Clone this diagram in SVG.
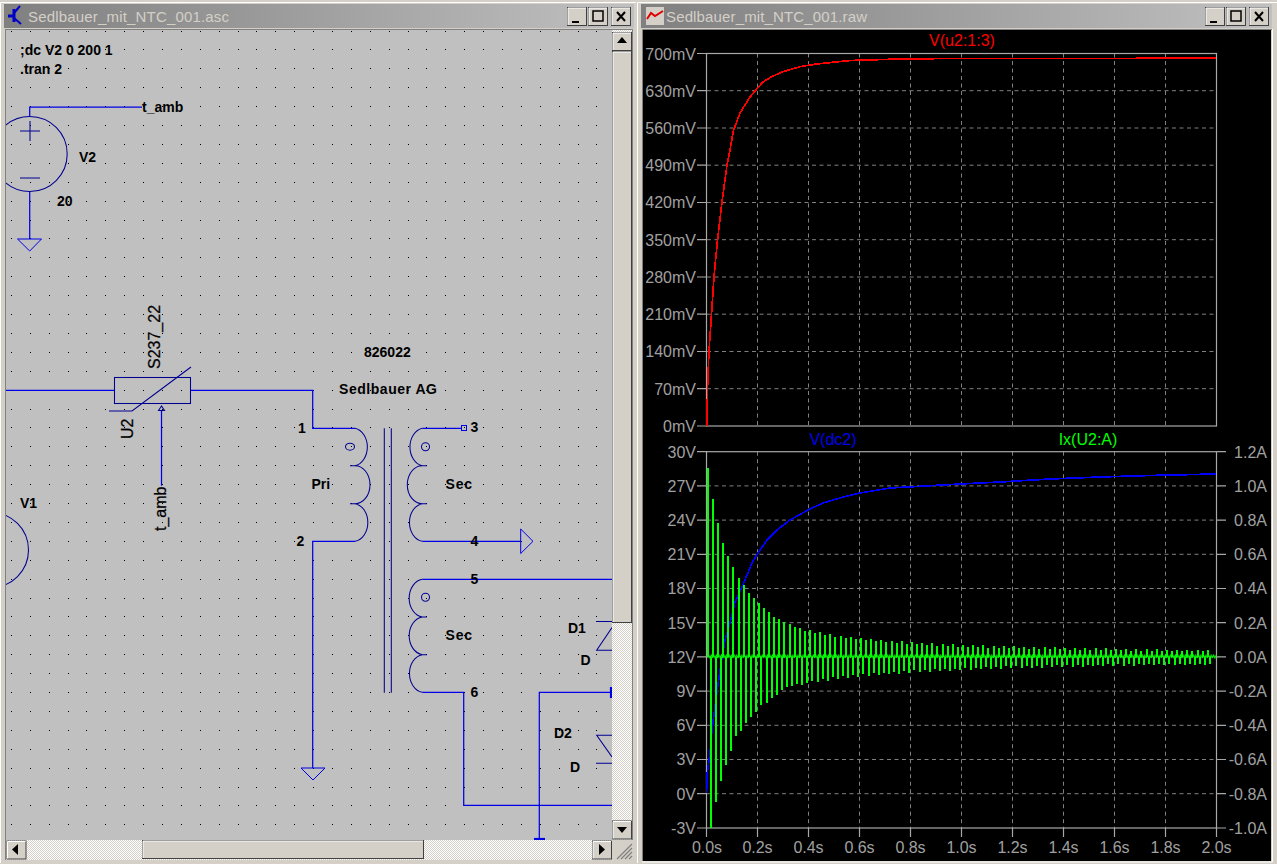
<svg xmlns="http://www.w3.org/2000/svg" width="1277" height="864" viewBox="0 0 1277 864">
<style>
.t{font-family:"Liberation Sans",Arial,sans-serif;font-size:14px;font-weight:bold;fill:#000}
.r{font-family:"Liberation Sans",Arial,sans-serif;font-size:16px;fill:#000;stroke:#000;stroke-width:.25}
.title{font-family:"Liberation Sans",Arial,sans-serif;font-size:15px;fill:#d4d0c8}
.ax{font-family:"Liberation Sans",Arial,sans-serif;font-size:16px;fill:#a0a0a0}
.axl{text-anchor:end}
.axm{text-anchor:middle}
.w{fill:none;stroke:#0000e6;stroke-width:1.25}
.c{fill:none;stroke:#000090;stroke-width:1.05}
.cb{fill:none;stroke:#0000e6;stroke-width:1}
.frame{fill:none;stroke:#a8a8a8;stroke-width:1.2}
.grid{fill:none;stroke:#808080;stroke-width:1;stroke-dasharray:4 3.5}
.btn{fill:#d4d0c8;stroke:#404040;stroke-width:1}
.hi{fill:none;stroke:#fff;stroke-width:1}
.track{fill:url(#hatch)}
</style>
<defs>
<pattern id="hatch" width="2" height="2" patternUnits="userSpaceOnUse"><rect width="2" height="2" fill="#fff"/><rect width="1" height="1" fill="#d4d0c8"/><rect x="1" y="1" width="1" height="1" fill="#d4d0c8"/></pattern>
<pattern id="ripple" x="707.5" y="652" width="5.1" height="9" patternUnits="userSpaceOnUse"><path d="M0 6L1.3 3L2.55 6L3.8 3L5.1 6" fill="none" stroke="#0f0" stroke-width=".9"/></pattern>
<linearGradient id="tb" x1="0" x2="1" y1="0" y2="0"><stop offset="0" stop-color="#808080"/><stop offset="1" stop-color="#c0c0c0"/></linearGradient>
<clipPath id="sch"><rect x="6" y="30" width="606" height="810"/></clipPath>
<clipPath id="plot2"><rect x="700" y="440" width="517" height="395"/></clipPath>
<g id="bx"><rect class="btn" x="0.5" y="0.5" width="19" height="18"/><path class="hi" d="M1 18V1H19"/></g>
</defs>

<rect id="desktop" width="1277" height="864" fill="#d4d0c8"/>

<g id="schematic-window">
<path d="M0.5 863V2.5H636" fill="none" stroke="#fff"/>
<rect x="4" y="4" width="630" height="24" fill="url(#tb)"/>
<rect x="5" y="29" width="628" height="831" fill="#808080"/>
<rect x="6" y="30" width="606" height="810" fill="#c0c0c0"/>
<g id="app-icon-left" fill="none" stroke="#0000c8" stroke-width="2"><path d="M8 16H14M14 9V22" stroke-width="3"/><path d="M14 13L20 6M14 18L21 24"/></g>
<text class="title" x="28" y="22" textLength="201">Sedlbauer_mit_NTC_001.asc</text>
<use href="#bx" x="567" y="7"/><use href="#bx" x="588" y="7"/><use href="#bx" x="611" y="7"/>
<path d="M572 22H579" stroke="#000" stroke-width="2"/>
<rect x="593" y="11" width="10" height="10" fill="none" stroke="#000" stroke-width="1.5"/>
<path d="M617 12L625 21M625 12L617 21" stroke="#000" stroke-width="2"/>

<path id="grid-dots" stroke="#000" stroke-width="1" stroke-dasharray="1 17.9" shape-rendering="crispEdges" fill="none" d="M11.5 30.5V840M30.5 30.5V840M49.5 30.5V840M68.5 30.5V840M86.5 30.5V840M105.5 30.5V840M124.5 30.5V840M143.5 30.5V840M162.5 30.5V840M181.5 30.5V840M200.5 30.5V840M219.5 30.5V840M238.5 30.5V840M256.5 30.5V840M275.5 30.5V840M294.5 30.5V840M313.5 30.5V840M332.5 30.5V840M351.5 30.5V840M370.5 30.5V840M389.5 30.5V840M408.5 30.5V840M426.5 30.5V840M445.5 30.5V840M464.5 30.5V840M483.5 30.5V840M502.5 30.5V840M521.5 30.5V840M540.5 30.5V840M559.5 30.5V840M578.5 30.5V840M596.5 30.5V840"/>

<g clip-path="url(#sch)">
<g id="connectors">
<path class="w" d="M29.7 116V107H142"/>
<path class="w" d="M29.7 191V239"/>
<path class="w" d="M6 390.3H114.3"/>
<path class="w" d="M190.7 390.3H312.7V428.3H355"/>
<path class="w" d="M161.5 410V485.7"/>
<path class="w" d="M355 541.3H312.7V768"/>
<path class="w" d="M422.3 428.3H461"/>
<path class="w" d="M422.3 541.3H520.7"/>
<path class="w" d="M422.3 579.3H612"/>
<path class="w" d="M422.3 692.3H463.7V805.3H612"/>
<path class="w" d="M611 692.3H539.3V840"/>
</g>
<g id="V2">
<circle class="c" cx="29.7" cy="154" r="37.5"/>
<path class="c" d="M20 131H40M30 121V141M20 178H40"/>
<path class="cb" d="M17.5 239H41.5L29.7 251Z"/>
<text class="t" x="79" y="162">V2</text>
<text class="t" x="57" y="206">20</text>
</g>
<g id="V1">
<circle class="c" cx="-9" cy="550" r="37.5"/>
<text class="t" x="20" y="508">V1</text>
</g>
<g id="U2">
<rect class="c" x="114.5" y="377.5" width="76" height="26" stroke-width="1.3"/>
<path class="c" d="M109 411H132L191 367"/>
<path class="c" d="M161.5 406L158.5 410.5H164.5Z"/>
<text class="r" transform="translate(159.5 369) rotate(-90)">S237_22</text>
<text class="r" transform="translate(133 439) rotate(-90)">U2</text>
<text class="r" transform="translate(166 531) rotate(-90)">t_amb</text>
</g>
<g id="transformer">
<path class="c" d="M355 428.3A15 19 0 0 1 355 465.7H350M355 465.7A15 19 0 0 1 355 503.7H350M355 503.7A15 19 0 0 1 355 541.3"/>
<ellipse class="c" cx="350" cy="446.7" rx="4.5" ry="3.5"/>
<path class="c" d="M384.3 428.3V692.7M391.3 428.3V692.7"/>
<path class="c" d="M422.3 428.3A15 19 0 0 0 422.3 465.7H427M422.3 465.7A15 19 0 0 0 422.3 503.7H427M422.3 503.7A15 19 0 0 0 422.3 541.3"/>
<circle class="c" cx="425.5" cy="446.7" r="4"/>
<path class="c" d="M422.3 579.3A15 19 0 0 0 422.3 617H427M422.3 617A15 19 0 0 0 422.3 654.7H427M422.3 654.7A15 19 0 0 0 422.3 692.3"/>
<circle class="c" cx="425.5" cy="597.3" r="4"/>
<rect class="cb" x="461.5" y="425.5" width="5" height="5"/>
<text class="t" x="364" y="357">826022</text>
<text class="t" x="339" y="394" textLength="98">Sedlbauer AG</text>
<text class="t" x="298" y="433">1</text>
<text class="t" x="296.5" y="546">2</text>
<text class="t" x="311.5" y="489">Pri</text>
<text class="t" x="470.5" y="432">3</text>
<text class="t" x="445.5" y="489" textLength="26.5">Sec</text>
<text class="t" x="470.5" y="546">4</text>
<text class="t" x="470.5" y="584">5</text>
<text class="t" x="445.5" y="640" textLength="26.5">Sec</text>
<text class="t" x="470.5" y="697">6</text>
</g>
<g id="grounds">
<path class="cb" d="M301 768H325L313 780Z"/>
<path class="cb" d="M520.7 529V553.5L533 541.3Z"/>
<path d="M611 687V698" stroke="#0000e6" stroke-width="2.2" fill="none"/>
<path d="M534 839H545" stroke="#0000e6" stroke-width="2.2" fill="none"/>
</g>
<g id="D1">
<path class="c" d="M596 621.5H612M612 627.5L596.7 650.3H612"/>
<text class="t" x="568" y="633">D1</text>
<text class="t" x="580.5" y="665">D</text>
</g>
<g id="D2">
<path class="c" d="M612 735.3H596.7L612 757M596 763.3H612"/>
<text class="t" x="554" y="738">D2</text>
<text class="t" x="570" y="772">D</text>
</g>
<g id="labels">
<text class="t" x="20" y="55">;dc V2 0 200 1</text>
<text class="t" x="20" y="74">.tran 2</text>
<text class="t" x="142" y="112">t_amb</text>
</g>
</g>

<g id="scrollbars">
<rect class="track" x="612" y="30" width="20" height="810"/>
<rect class="track" x="6" y="840" width="606" height="20"/>
<rect x="612" y="840" width="21" height="20" fill="#d4d0c8"/>
<path d="M617 859L632 844M621 859L632 848M625 859L632 852M629 859L632 856" stroke="#808080" stroke-width="1.2"/>
<use href="#bx" x="612" y="32"/>
<path d="M622 37L617 43H627Z" fill="#000"/>
<rect class="btn" x="612.5" y="51.5" width="19" height="571"/><path class="hi" d="M613 622V52H631"/>
<use href="#bx" x="612" y="820.5"/>
<path d="M617 827H627L622 833Z" fill="#000"/>
<use href="#bx" x="6.5" y="840.5"/>
<path d="M18 844V855L12 849.5Z" fill="#000"/>
<rect class="btn" x="142.5" y="840.5" width="281" height="18"/><path class="hi" d="M143 858V841H423"/>
<use href="#bx" x="592" y="840.5"/>
<path d="M599 844V855L605 849.5Z" fill="#000"/>
</g>
</g>

<g id="plot-window">
<path d="M637.5 863V2.5H1277" fill="none" stroke="#fff"/>
<rect x="641" y="4" width="631" height="24" fill="url(#tb)"/>
<rect x="643" y="30" width="628" height="831" fill="#000"/>
<path d="M642.5 861V29.5H1272" fill="none" stroke="#808080"/>
<path d="M1272.5 29V862H642" fill="none" stroke="#fff"/>
<g id="app-icon-right"><rect x="646" y="7" width="18" height="18" fill="#d4d0c8"/><path d="M647 19L651 13L655 16L663 11" fill="none" stroke="#e00000" stroke-width="2"/></g>
<text class="title" x="666" y="22" textLength="201">Sedlbauer_mit_NTC_001.raw</text>
<use href="#bx" x="1205" y="7"/><use href="#bx" x="1226" y="7"/><use href="#bx" x="1249" y="7"/>
<path d="M1210 22H1217" stroke="#000" stroke-width="2"/>
<rect x="1231" y="11" width="10" height="10" fill="none" stroke="#000" stroke-width="1.5"/>
<path d="M1255 12L1263 21M1263 12L1255 21" stroke="#000" stroke-width="2"/>

<g id="plot-top">
<path class="grid" d="M707 90.7H1217M707 128H1217M707 165.2H1217M707 202.5H1217M707 239.7H1217M707 277H1217M707 314.2H1217M707 351.5H1217M707 388.7H1217"/>
<path class="grid" d="M757.5 53.5V426M808.5 53.5V426M859.5 53.5V426M910.5 53.5V426M961.5 53.5V426M1012.5 53.5V426M1063.5 53.5V426M1114.5 53.5V426M1165.5 53.5V426"/>
<rect class="frame" x="706.5" y="53.5" width="510" height="372.5"/>
<path class="frame" d="M697 53.5H707M697 90.7H707M697 128H707M697 165.2H707M697 202.5H707M697 239.7H707M697 277H707M697 314.2H707M697 351.5H707M697 388.7H707M697 426H707"/>
<g class="ax axl">
<text x="696" y="60">700mV</text><text x="696" y="97">630mV</text><text x="696" y="134">560mV</text><text x="696" y="171">490mV</text><text x="696" y="208">420mV</text><text x="696" y="246">350mV</text><text x="696" y="283">280mV</text><text x="696" y="320">210mV</text><text x="696" y="357">140mV</text><text x="696" y="395">70mV</text><text x="696" y="432">0mV</text>
</g>
<text x="962" y="46" text-anchor="middle" style="font:16px 'Liberation Sans',Arial,sans-serif;fill:#f00">V(u2:1:3)</text>
<path id="trace-red" fill="none" stroke="#f00" stroke-width="1.7" shape-rendering="crispEdges" d="M707 426L707.5 389L709 351L711.5 314L714 277L717.5 240L722 202L727 165L730 150L733.3 131L736.7 122L740 113L745 105L750 97L756.7 89L763 82L771.7 76.7L783 71.7L800 66.7L816.7 64L850 60.5L900 59L950 58.5L1216 58.3"/>
</g>

<g id="plot-bottom">
<path class="grid" d="M707 485.9H1217M707 520.1H1217M707 554.3H1217M707 588.5H1217M707 622.7H1217M707 656.9H1217M707 691.1H1217M707 725.3H1217M707 759.5H1217M707 793.7H1217"/>
<path class="grid" d="M757.5 451.7V828M808.5 451.7V828M859.5 451.7V828M910.5 451.7V828M961.5 451.7V828M1012.5 451.7V828M1063.5 451.7V828M1114.5 451.7V828M1165.5 451.7V828"/>
<rect class="frame" x="706.5" y="451.7" width="510" height="376.3"/>
<path class="frame" d="M697 451.7H707M697 485.9H707M697 520.1H707M697 554.3H707M697 588.5H707M697 622.7H707M697 656.9H707M697 691.1H707M697 725.3H707M697 759.5H707M697 793.7H707M697 828H707"/>
<path class="frame" d="M1217 451.7H1226M1217 485.9H1226M1217 520.1H1226M1217 554.3H1226M1217 588.5H1226M1217 622.7H1226M1217 656.9H1226M1217 691.1H1226M1217 725.3H1226M1217 759.5H1226M1217 793.7H1226M1217 828H1226"/>
<path class="frame" d="M706.5 828V837M757.5 828V837M808.5 828V837M859.5 828V837M910.5 828V837M961.5 828V837M1012.5 828V837M1063.5 828V837M1114.5 828V837M1165.5 828V837M1216.5 828V837"/>
<g class="ax axl">
<text x="696" y="458">30V</text><text x="696" y="492">27V</text><text x="696" y="526">24V</text><text x="696" y="560">21V</text><text x="696" y="594">18V</text><text x="696" y="629">15V</text><text x="696" y="663">12V</text><text x="696" y="697">9V</text><text x="696" y="731">6V</text><text x="696" y="765">3V</text><text x="696" y="800">0V</text><text x="696" y="834">-3V</text>
<text x="1267" y="458">1.2A</text><text x="1267" y="492">1.0A</text><text x="1267" y="526">0.8A</text><text x="1267" y="560">0.6A</text><text x="1267" y="594">0.4A</text><text x="1267" y="629">0.2A</text><text x="1267" y="663">0.0A</text><text x="1267" y="697">-0.2A</text><text x="1267" y="731">-0.4A</text><text x="1267" y="765">-0.6A</text><text x="1267" y="800">-0.8A</text><text x="1267" y="834">-1.0A</text>
</g>
<g class="ax axm">
<text x="707" y="853">0.0s</text><text x="757.5" y="853">0.2s</text><text x="808.5" y="853">0.4s</text><text x="859.5" y="853">0.6s</text><text x="910.5" y="853">0.8s</text><text x="961.5" y="853">1.0s</text><text x="1012.5" y="853">1.2s</text><text x="1063.5" y="853">1.4s</text><text x="1114.5" y="853">1.6s</text><text x="1165.5" y="853">1.8s</text><text x="1216.5" y="853">2.0s</text>
</g>
<text x="833" y="445" text-anchor="middle" style="font:16px 'Liberation Sans',Arial,sans-serif;fill:#0000f0">V(dc2)</text>
<text x="1088" y="445" text-anchor="middle" style="font:16px 'Liberation Sans',Arial,sans-serif;fill:#0f0">Ix(U2:A)</text>
<path id="trace-blue" fill="none" stroke="#0000ff" stroke-width="1.7" shape-rendering="crispEdges" d="M706.5 793L707.3 773L710 753L712 730L715 707L720 670L725 640L730 623L735 602L742 587L747 575L752 563L758 553L767 540L777 530L790 520L808 510L823 503L840 498L860 493L890 488L960 484L1000 482L1050 479L1100 477L1150 475.5L1216 474"/>
<rect id="trace-green-ripple" x="707.5" y="652" width="509" height="9" fill="url(#ripple)"/>
<path id="trace-green" fill="none" stroke="#0f0" stroke-width="2" shape-rendering="crispEdges" clip-path="url(#plot2)" d="M708 657v-189m2.5 189v171m2.6-171
v-158m2.5 158v145m2.6-145
v-134m2.5 134v124m2.6-124
v-114m2.5 114v108m2.6-108
v-101m2.5 101v94m2.6-94
v-90m2.5 90v79m2.6-79
v-79m2.5 79v74m2.6-74
v-72m2.5 72v66m2.6-66
v-64m2.5 64v60m2.6-60
v-59m2.5 59v55m2.6-55
v-54m2.5 54v48m2.6-48
v-49m2.5 49v46m2.6-46
v-45m2.5 45v41m2.6-41
v-40m2.5 40v38m2.6-38
v-38m2.5 38v33m2.6-33
v-35m2.5 35v30m2.6-30
v-33m2.5 33v29m2.6-29
v-30m2.5 30v27m2.6-27
v-29m2.5 29v28m2.6-28
v-26m2.5 26v26m2.6-26
v-27m2.5 27v24m2.6-24
v-24m2.5 24v25m2.6-25
v-25m2.5 25v22m2.6-22
v-22m2.5 22v24m2.6-24
v-23m2.5 23v20m2.6-20
v-20m2.5 20v22m2.6-22
v-21m2.5 21v19m2.6-19
v-19m2.5 19v21m2.6-21
v-20m2.5 20v18m2.6-18
v-18m2.5 18v20m2.6-20
v-19m2.5 19v17m2.6-17
v-17m2.5 17v19m2.6-19
v-18m2.5 18v16m2.6-16
v-16m2.5 16v18m2.6-18
v-17m2.5 17v16m2.6-16
v-15m2.5 15v17m2.6-17
v-16m2.5 16v15m2.6-15
v-14m2.5 14v17m2.6-17
v-16m2.5 16v14m2.6-14
v-13m2.5 13v16m2.6-16
v-15m2.5 15v13m2.6-13
v-13m2.5 13v15m2.6-15
v-14m2.5 14v13m2.6-13
v-12m2.5 12v15m2.6-15
v-14m2.5 14v12m2.6-12
v-11m2.5 11v14m2.6-14
v-13m2.5 13v12m2.6-12
v-11m2.5 11v14m2.6-14
v-13m2.5 13v12m2.6-12
v-10m2.5 10v13m2.6-13
v-12m2.5 12v11m2.6-11
v-10m2.5 10v13m2.6-13
v-12m2.5 12v11m2.6-11
v-10m2.5 10v12m2.6-12
v-12m2.5 12v10m2.6-10
v-9m2.5 9v12m2.6-12
v-11m2.5 11v10m2.6-10
v-9m2.5 9v12m2.6-12
v-11m2.5 11v9m2.6-9
v-9m2.5 9v11m2.6-11
v-11m2.5 11v9m2.6-9
v-9m2.5 9v11m2.6-11
v-10m2.5 10v9m2.6-9
v-8m2.5 8v11m2.6-11
v-10m2.5 10v9m2.6-9
v-8m2.5 8v11m2.6-11
v-10m2.5 10v8m2.6-8
v-8m2.5 8v10m2.6-10
v-10m2.5 10v8m2.6-8
v-8m2.5 8v10m2.6-10
v-9m2.5 9v8m2.6-8
v-7m2.5 7v10m2.6-10
v-9m2.5 9v8m2.6-8
v-7m2.5 7v10m2.6-10
v-9m2.5 9v8m2.6-8
v-7m2.5 7v9m2.6-9
v-9m2.5 9v8m2.6-8
v-7m2.5 7v9m2.6-9
v-9m2.5 9v7m2.6-7
v-7m2.5 7v9m2.6-9
v-8m2.5 8v7m2.6-7
v-7m2.5 7v9m2.6-9
v-8m2.5 8v7m2.6-7
v-6m2.5 6v9m2.6-9
v-8m2.5 8v7m2.6-7
v-6m2.5 6v8m2.6-8
v-8m2.5 8v7m2.6-7
v-6m2.5 6v8m2.6-8
v-8m2.5 8v7m2.6-7
v-6m2.5 6v8m2.6-8
v-7m2.5 7v7m2.6-7
v-6m2.5 6v8m2.6-8
v-7m2.5 7v7m2.6-7
v-6m2.5 6v8m2.6-8
v-7m2.5 7v7m2.6-7
v-6m2.5 6v8m2.6-8
v-7m2.5 7v7m2.6-7
v-6m2.5 6v8m2.6-8
v-7m2.5 7v7"/>
</g>
</g>
</svg>
